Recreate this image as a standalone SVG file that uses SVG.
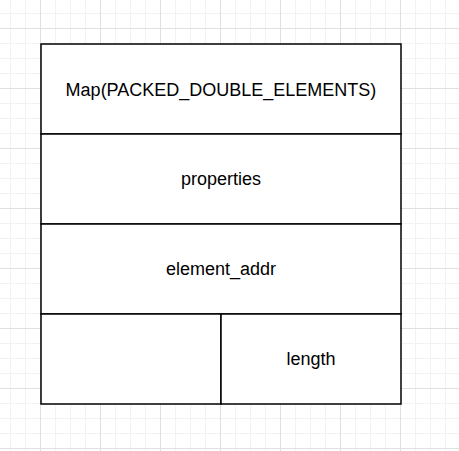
<svg xmlns="http://www.w3.org/2000/svg" width="459" height="451" viewBox="0 0 459 451">
  <defs>
    <pattern id="minor" patternUnits="userSpaceOnUse" x="10" y="13" width="15" height="15">
      <path d="M0.5 0V15M0 0.5H15" fill="none" stroke="#f2f2f2" stroke-width="1"/>
    </pattern>
    <pattern id="major" patternUnits="userSpaceOnUse" x="40" y="28" width="60" height="60">
      <path d="M0.5 0V60M0 0.5H60" fill="none" stroke="#e0e0e0" stroke-width="1"/>
    </pattern>
  </defs>
  <style>
    .cell { fill: #ffffff; stroke: #000000; stroke-width: 1.5; }
    .label { font-family: "Liberation Sans", Arial, sans-serif; font-size: 18px; fill: #000000; text-anchor: middle; }
  </style>
  <rect x="0" y="0" width="459" height="451" fill="#ffffff"/>
  <rect x="0" y="0" width="459" height="451" fill="url(#minor)"/>
  <rect x="0" y="0" width="459" height="451" fill="url(#major)"/>

  <g id="map">
    <rect class="cell" x="41" y="44" width="360" height="90"/>
    <text class="label" x="221" y="95.5">Map(PACKED_DOUBLE_ELEMENTS)</text>
  </g>
  <g id="properties">
    <rect class="cell" x="41" y="134" width="360" height="90"/>
    <text class="label" x="221" y="185">properties</text>
  </g>
  <g id="element_addr">
    <rect class="cell" x="41" y="224" width="360" height="90"/>
    <text class="label" x="221" y="275">element_addr</text>
  </g>
  <g id="empty">
    <rect class="cell" x="41" y="314" width="180" height="90"/>
  </g>
  <g id="length">
    <rect class="cell" x="221" y="314" width="180" height="90"/>
    <text class="label" x="311" y="365">length</text>
  </g>
  <g id="connectors"/>
</svg>
